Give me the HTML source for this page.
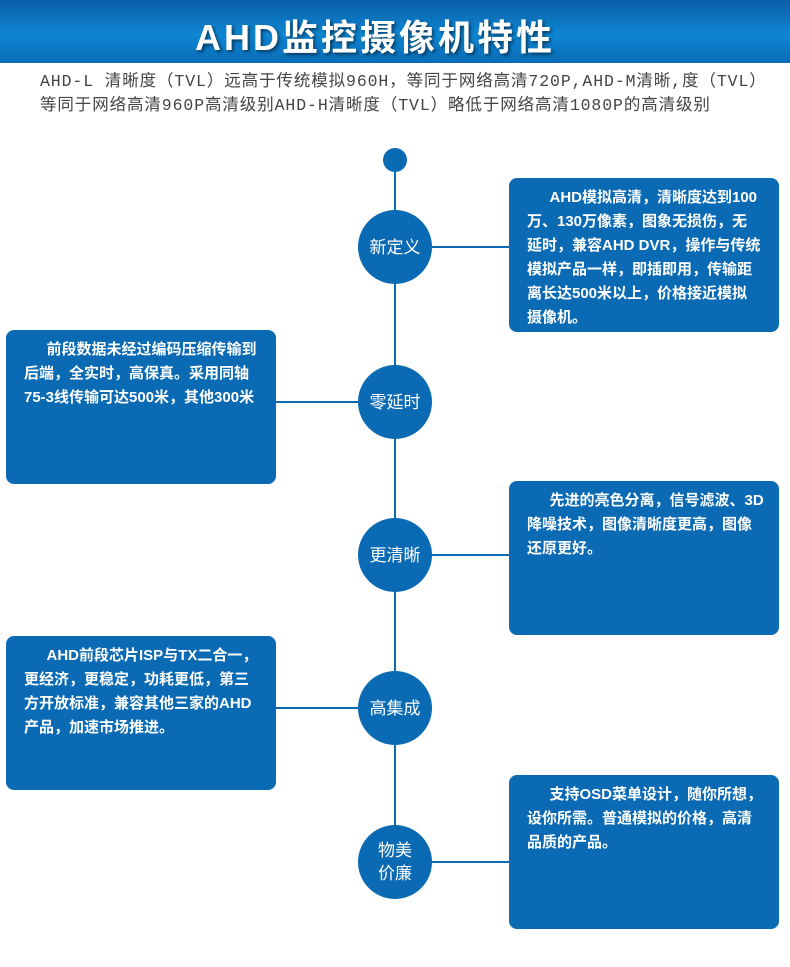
<!DOCTYPE html>
<html><head><meta charset="utf-8"><style>
body{margin:0;width:790px;height:967px;background:#fff;position:relative;overflow:hidden;font-family:"Liberation Sans","Noto Sans CJK SC",sans-serif}
.hdr{position:absolute;left:0;top:0;width:790px;height:63px;background:linear-gradient(180deg,#0a5fa8 0%,#0e86d2 55%,#0a6cb8 100%)}
.hdr div{position:absolute;left:-20px;width:790px;top:9px;text-align:center;color:#fff;font-size:36px;font-weight:bold;letter-spacing:3px;text-shadow:2px 2px 3px rgba(0,0,0,.5)}
.sub{position:absolute;left:40px;top:70px;font-family:"Liberation Mono","Noto Sans CJK SC",monospace;font-size:16.5px;letter-spacing:0.9px;line-height:24px;color:#444;white-space:nowrap}
.line{position:absolute;left:394px;top:160px;width:2px;height:700px;background:#0a6ab4}
.h{position:absolute;height:2px;background:#0a6ab4}
.c{position:absolute;width:74px;height:74px;border-radius:50%;background:#0a6ab4;color:#fff;font-size:17px;display:flex;align-items:center;justify-content:center;text-align:center;line-height:23px}
.b{position:absolute;width:236px;height:146px;padding:8px 16px 0 18px;border-radius:8px;background:#0a6ab4;color:#fff;font-size:15px;font-weight:bold;line-height:24px;white-space:nowrap;overflow:hidden}
</style></head><body>
<div class="hdr"><div>AHD监控摄像机特性</div></div>
<div class="sub">AHD-L 清晰度（TVL）远高于传统模拟960H，等同于网络高清720P,AHD-M清晰,度（TVL）<br>等同于网络高清960P高清级别AHD-H清晰度（TVL）略低于网络高清1080P的高清级别</div>
<div class="line"></div>
<div style="position:absolute;left:383px;top:148px;width:24px;height:24px;border-radius:50%;background:#0a6ab4"></div>
<div class="h" style="left:395px;top:246px;width:115px"></div>
<div class="h" style="left:276px;top:401px;width:119px"></div>
<div class="h" style="left:395px;top:554px;width:115px"></div>
<div class="h" style="left:276px;top:707px;width:119px"></div>
<div class="h" style="left:395px;top:861px;width:115px"></div>
<div class="c" style="left:358px;top:210px">新定义</div>
<div class="c" style="left:358px;top:365px">零延时</div>
<div class="c" style="left:358px;top:518px">更清晰</div>
<div class="c" style="left:358px;top:671px">高集成</div>
<div class="c" style="left:358px;top:825px">物美<br>价廉</div>
<div class="b" style="left:509px;top:178px">&emsp;&ensp;AHD模拟高清，清晰度达到100<br>万、130万像素，图象无损伤，无<br>延时，兼容AHD DVR，操作与传统<br>模拟产品一样，即插即用，传输距<br>离长达500米以上，价格接近模拟<br>摄像机。</div>
<div class="b" style="left:6px;top:330px">&emsp;&ensp;前段数据未经过编码压缩传输到<br>后端，全实时，高保真。采用同轴<br>75-3线传输可达500米，其他300米</div>
<div class="b" style="left:509px;top:481px">&emsp;&ensp;先进的亮色分离，信号滤波、3D<br>降噪技术，图像清晰度更高，图像<br>还原更好。</div>
<div class="b" style="left:6px;top:636px">&emsp;&ensp;AHD前段芯片ISP与TX二合一，<br>更经济，更稳定，功耗更低，第三<br>方开放标准，兼容其他三家的AHD<br>产品，加速市场推进。</div>
<div class="b" style="left:509px;top:775px">&emsp;&ensp;支持OSD菜单设计，随你所想，<br>设你所需。普通模拟的价格，高清<br>品质的产品。</div>
</body></html>
